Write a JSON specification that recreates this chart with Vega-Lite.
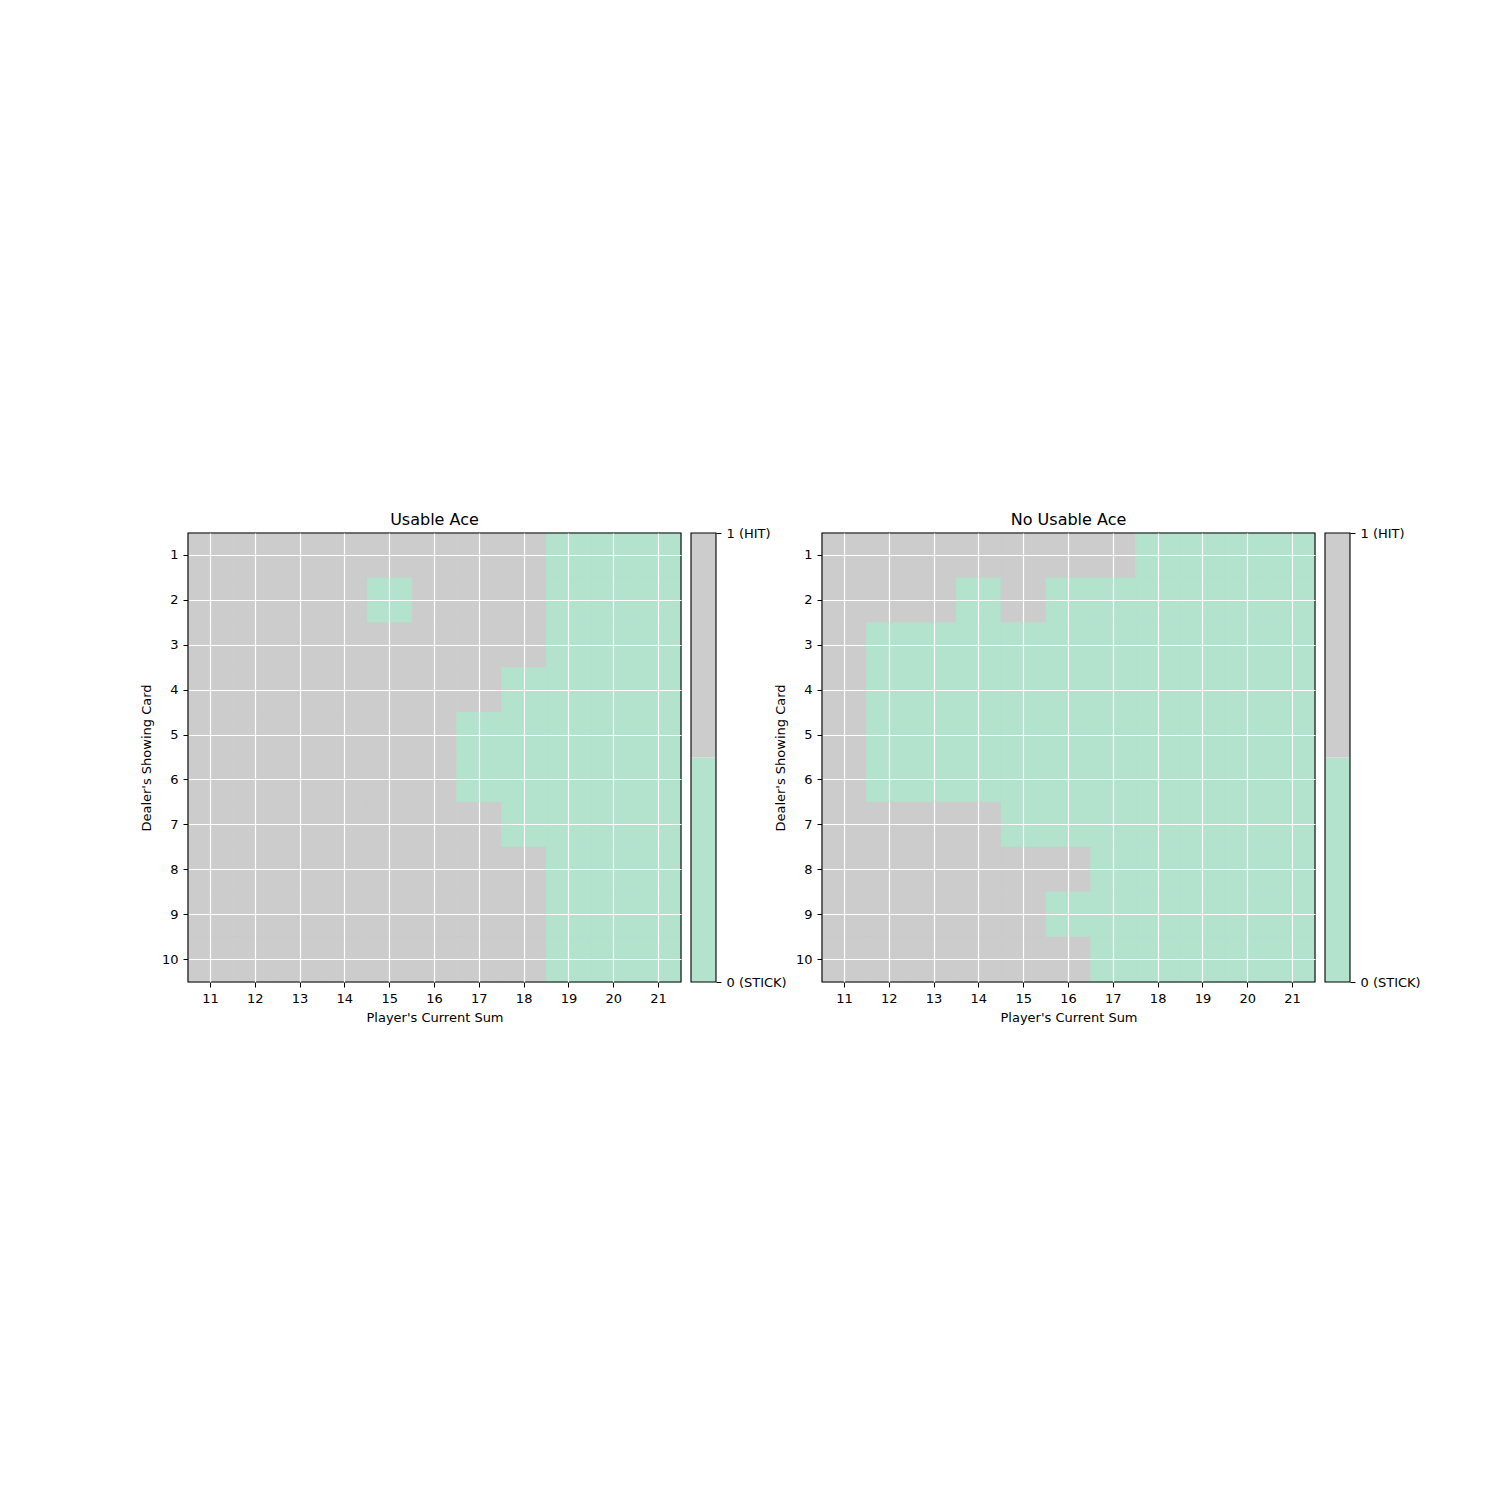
{
  "$schema": "https://vega.github.io/schema/vega-lite/v6.json",
  "padding": {"left": 140, "top": 512, "right": 5, "bottom": 5},
  "background": "white",
  "config": {
    "font": "DejaVu Sans",
    "view": {"stroke": null},
    "axis": {"labelFontSize": 13, "titleFontSize": 13, "titleFontWeight": "normal", "labelColor": "black", "titleColor": "black", "tickColor": "black", "tickSize": 5, "labelPadding": 5, "domain": false},
    "title": {"fontSize": 16, "fontWeight": "normal", "color": "black", "offset": 4}
  },
  "datasets": {
    "usable": [
      {"d":1,"s":11,"a":1},{"d":1,"s":12,"a":1},{"d":1,"s":13,"a":1},{"d":1,"s":14,"a":1},{"d":1,"s":15,"a":1},{"d":1,"s":16,"a":1},{"d":1,"s":17,"a":1},{"d":1,"s":18,"a":1},{"d":1,"s":19,"a":0},{"d":1,"s":20,"a":0},{"d":1,"s":21,"a":0},
      {"d":2,"s":11,"a":1},{"d":2,"s":12,"a":1},{"d":2,"s":13,"a":1},{"d":2,"s":14,"a":1},{"d":2,"s":15,"a":0},{"d":2,"s":16,"a":1},{"d":2,"s":17,"a":1},{"d":2,"s":18,"a":1},{"d":2,"s":19,"a":0},{"d":2,"s":20,"a":0},{"d":2,"s":21,"a":0},
      {"d":3,"s":11,"a":1},{"d":3,"s":12,"a":1},{"d":3,"s":13,"a":1},{"d":3,"s":14,"a":1},{"d":3,"s":15,"a":1},{"d":3,"s":16,"a":1},{"d":3,"s":17,"a":1},{"d":3,"s":18,"a":1},{"d":3,"s":19,"a":0},{"d":3,"s":20,"a":0},{"d":3,"s":21,"a":0},
      {"d":4,"s":11,"a":1},{"d":4,"s":12,"a":1},{"d":4,"s":13,"a":1},{"d":4,"s":14,"a":1},{"d":4,"s":15,"a":1},{"d":4,"s":16,"a":1},{"d":4,"s":17,"a":1},{"d":4,"s":18,"a":0},{"d":4,"s":19,"a":0},{"d":4,"s":20,"a":0},{"d":4,"s":21,"a":0},
      {"d":5,"s":11,"a":1},{"d":5,"s":12,"a":1},{"d":5,"s":13,"a":1},{"d":5,"s":14,"a":1},{"d":5,"s":15,"a":1},{"d":5,"s":16,"a":1},{"d":5,"s":17,"a":0},{"d":5,"s":18,"a":0},{"d":5,"s":19,"a":0},{"d":5,"s":20,"a":0},{"d":5,"s":21,"a":0},
      {"d":6,"s":11,"a":1},{"d":6,"s":12,"a":1},{"d":6,"s":13,"a":1},{"d":6,"s":14,"a":1},{"d":6,"s":15,"a":1},{"d":6,"s":16,"a":1},{"d":6,"s":17,"a":0},{"d":6,"s":18,"a":0},{"d":6,"s":19,"a":0},{"d":6,"s":20,"a":0},{"d":6,"s":21,"a":0},
      {"d":7,"s":11,"a":1},{"d":7,"s":12,"a":1},{"d":7,"s":13,"a":1},{"d":7,"s":14,"a":1},{"d":7,"s":15,"a":1},{"d":7,"s":16,"a":1},{"d":7,"s":17,"a":1},{"d":7,"s":18,"a":0},{"d":7,"s":19,"a":0},{"d":7,"s":20,"a":0},{"d":7,"s":21,"a":0},
      {"d":8,"s":11,"a":1},{"d":8,"s":12,"a":1},{"d":8,"s":13,"a":1},{"d":8,"s":14,"a":1},{"d":8,"s":15,"a":1},{"d":8,"s":16,"a":1},{"d":8,"s":17,"a":1},{"d":8,"s":18,"a":1},{"d":8,"s":19,"a":0},{"d":8,"s":20,"a":0},{"d":8,"s":21,"a":0},
      {"d":9,"s":11,"a":1},{"d":9,"s":12,"a":1},{"d":9,"s":13,"a":1},{"d":9,"s":14,"a":1},{"d":9,"s":15,"a":1},{"d":9,"s":16,"a":1},{"d":9,"s":17,"a":1},{"d":9,"s":18,"a":1},{"d":9,"s":19,"a":0},{"d":9,"s":20,"a":0},{"d":9,"s":21,"a":0},
      {"d":10,"s":11,"a":1},{"d":10,"s":12,"a":1},{"d":10,"s":13,"a":1},{"d":10,"s":14,"a":1},{"d":10,"s":15,"a":1},{"d":10,"s":16,"a":1},{"d":10,"s":17,"a":1},{"d":10,"s":18,"a":1},{"d":10,"s":19,"a":0},{"d":10,"s":20,"a":0},{"d":10,"s":21,"a":0}
    ],
    "nousable": [
      {"d":1,"s":11,"a":1},{"d":1,"s":12,"a":1},{"d":1,"s":13,"a":1},{"d":1,"s":14,"a":1},{"d":1,"s":15,"a":1},{"d":1,"s":16,"a":1},{"d":1,"s":17,"a":1},{"d":1,"s":18,"a":0},{"d":1,"s":19,"a":0},{"d":1,"s":20,"a":0},{"d":1,"s":21,"a":0},
      {"d":2,"s":11,"a":1},{"d":2,"s":12,"a":1},{"d":2,"s":13,"a":1},{"d":2,"s":14,"a":0},{"d":2,"s":15,"a":1},{"d":2,"s":16,"a":0},{"d":2,"s":17,"a":0},{"d":2,"s":18,"a":0},{"d":2,"s":19,"a":0},{"d":2,"s":20,"a":0},{"d":2,"s":21,"a":0},
      {"d":3,"s":11,"a":1},{"d":3,"s":12,"a":0},{"d":3,"s":13,"a":0},{"d":3,"s":14,"a":0},{"d":3,"s":15,"a":0},{"d":3,"s":16,"a":0},{"d":3,"s":17,"a":0},{"d":3,"s":18,"a":0},{"d":3,"s":19,"a":0},{"d":3,"s":20,"a":0},{"d":3,"s":21,"a":0},
      {"d":4,"s":11,"a":1},{"d":4,"s":12,"a":0},{"d":4,"s":13,"a":0},{"d":4,"s":14,"a":0},{"d":4,"s":15,"a":0},{"d":4,"s":16,"a":0},{"d":4,"s":17,"a":0},{"d":4,"s":18,"a":0},{"d":4,"s":19,"a":0},{"d":4,"s":20,"a":0},{"d":4,"s":21,"a":0},
      {"d":5,"s":11,"a":1},{"d":5,"s":12,"a":0},{"d":5,"s":13,"a":0},{"d":5,"s":14,"a":0},{"d":5,"s":15,"a":0},{"d":5,"s":16,"a":0},{"d":5,"s":17,"a":0},{"d":5,"s":18,"a":0},{"d":5,"s":19,"a":0},{"d":5,"s":20,"a":0},{"d":5,"s":21,"a":0},
      {"d":6,"s":11,"a":1},{"d":6,"s":12,"a":0},{"d":6,"s":13,"a":0},{"d":6,"s":14,"a":0},{"d":6,"s":15,"a":0},{"d":6,"s":16,"a":0},{"d":6,"s":17,"a":0},{"d":6,"s":18,"a":0},{"d":6,"s":19,"a":0},{"d":6,"s":20,"a":0},{"d":6,"s":21,"a":0},
      {"d":7,"s":11,"a":1},{"d":7,"s":12,"a":1},{"d":7,"s":13,"a":1},{"d":7,"s":14,"a":1},{"d":7,"s":15,"a":0},{"d":7,"s":16,"a":0},{"d":7,"s":17,"a":0},{"d":7,"s":18,"a":0},{"d":7,"s":19,"a":0},{"d":7,"s":20,"a":0},{"d":7,"s":21,"a":0},
      {"d":8,"s":11,"a":1},{"d":8,"s":12,"a":1},{"d":8,"s":13,"a":1},{"d":8,"s":14,"a":1},{"d":8,"s":15,"a":1},{"d":8,"s":16,"a":1},{"d":8,"s":17,"a":0},{"d":8,"s":18,"a":0},{"d":8,"s":19,"a":0},{"d":8,"s":20,"a":0},{"d":8,"s":21,"a":0},
      {"d":9,"s":11,"a":1},{"d":9,"s":12,"a":1},{"d":9,"s":13,"a":1},{"d":9,"s":14,"a":1},{"d":9,"s":15,"a":1},{"d":9,"s":16,"a":0},{"d":9,"s":17,"a":0},{"d":9,"s":18,"a":0},{"d":9,"s":19,"a":0},{"d":9,"s":20,"a":0},{"d":9,"s":21,"a":0},
      {"d":10,"s":11,"a":1},{"d":10,"s":12,"a":1},{"d":10,"s":13,"a":1},{"d":10,"s":14,"a":1},{"d":10,"s":15,"a":1},{"d":10,"s":16,"a":1},{"d":10,"s":17,"a":0},{"d":10,"s":18,"a":0},{"d":10,"s":19,"a":0},{"d":10,"s":20,"a":0},{"d":10,"s":21,"a":0}
    ],
    "cbar": [
      {"a":0,"lo":0,"hi":0.5},
      {"a":1,"lo":0.5,"hi":1}
    ],
    "frame": [{"f": 1}]
  },
  "bounds": "flush",
  "spacing": 10,
  "hconcat": [
    {
      "width": 493, "height": 449,
      "title": "Usable Ace",
      "layer": [
        {
          "data": {"name": "usable"},
          "mark": {"type": "rect", "strokeWidth": 1},
          "encoding": {
            "x": {"field": "s", "type": "ordinal", "scale": {"paddingInner": 0, "paddingOuter": 0}, "axis": {"title": "Player's Current Sum", "labelAngle": 0, "grid": true, "gridColor": "white", "gridWidth": 1.2, "bandPosition": 0.5, "zindex": 1, "titlePadding": 6}},
            "y": {"field": "d", "type": "ordinal", "scale": {"paddingInner": 0, "paddingOuter": 0}, "axis": {"title": "Dealer's Showing Card", "grid": true, "gridColor": "white", "gridWidth": 1.2, "bandPosition": 0.5, "zindex": 1, "titlePadding": 8}},
            "color": {"field": "a", "type": "ordinal", "scale": {"domain": [0, 1], "range": ["#b3e2cd", "#cccccc"]}, "legend": null},
            "stroke": {"field": "a", "type": "ordinal", "scale": {"domain": [0, 1], "range": ["#b3e2cd", "#cccccc"]}, "legend": null}
          }
        },
        {
          "data": {"name": "frame"},
          "mark": {"type": "rect", "fillOpacity": 0, "stroke": "black", "strokeWidth": 1.1},
          "encoding": {}
        }
      ]
    },
    {
      "width": 25, "height": 449,
      "layer": [
        {
          "data": {"name": "cbar"},
          "mark": {"type": "rect"},
          "encoding": {
            "y": {"field": "lo", "type": "quantitative", "scale": {"domain": [0, 1], "nice": false, "zero": false}, "axis": {"orient": "right", "values": [0, 1], "labelExpr": "datum.value == 1 ? '1 (HIT)' : '0 (STICK)'", "title": null, "grid": false, "labelFlush": false, "zindex": 1}},
            "y2": {"field": "hi"},
            "color": {"field": "a", "type": "ordinal", "scale": {"domain": [0, 1], "range": ["#b3e2cd", "#cccccc"]}, "legend": null}
          }
        },
        {
          "data": {"name": "frame"},
          "mark": {"type": "rect", "fillOpacity": 0, "stroke": "black", "strokeWidth": 1.1},
          "encoding": {}
        }
      ]
    },
    {
      "width": 86, "height": 449,
      "data": {"name": "frame"},
      "mark": {"type": "rect", "opacity": 0},
      "encoding": {}
    },
    {
      "width": 493, "height": 449,
      "title": "No Usable Ace",
      "layer": [
        {
          "data": {"name": "nousable"},
          "mark": {"type": "rect", "strokeWidth": 1},
          "encoding": {
            "x": {"field": "s", "type": "ordinal", "scale": {"paddingInner": 0, "paddingOuter": 0}, "axis": {"title": "Player's Current Sum", "labelAngle": 0, "grid": true, "gridColor": "white", "gridWidth": 1.2, "bandPosition": 0.5, "zindex": 1, "titlePadding": 6}},
            "y": {"field": "d", "type": "ordinal", "scale": {"paddingInner": 0, "paddingOuter": 0}, "axis": {"title": "Dealer's Showing Card", "grid": true, "gridColor": "white", "gridWidth": 1.2, "bandPosition": 0.5, "zindex": 1, "titlePadding": 8}},
            "color": {"field": "a", "type": "ordinal", "scale": {"domain": [0, 1], "range": ["#b3e2cd", "#cccccc"]}, "legend": null},
            "stroke": {"field": "a", "type": "ordinal", "scale": {"domain": [0, 1], "range": ["#b3e2cd", "#cccccc"]}, "legend": null}
          }
        },
        {
          "data": {"name": "frame"},
          "mark": {"type": "rect", "fillOpacity": 0, "stroke": "black", "strokeWidth": 1.1},
          "encoding": {}
        }
      ]
    },
    {
      "width": 25, "height": 449,
      "layer": [
        {
          "data": {"name": "cbar"},
          "mark": {"type": "rect"},
          "encoding": {
            "y": {"field": "lo", "type": "quantitative", "scale": {"domain": [0, 1], "nice": false, "zero": false}, "axis": {"orient": "right", "values": [0, 1], "labelExpr": "datum.value == 1 ? '1 (HIT)' : '0 (STICK)'", "title": null, "grid": false, "labelFlush": false, "zindex": 1}},
            "y2": {"field": "hi"},
            "color": {"field": "a", "type": "ordinal", "scale": {"domain": [0, 1], "range": ["#b3e2cd", "#cccccc"]}, "legend": null}
          }
        },
        {
          "data": {"name": "frame"},
          "mark": {"type": "rect", "fillOpacity": 0, "stroke": "black", "strokeWidth": 1.1},
          "encoding": {}
        }
      ]
    }
  ],
  "resolve": {"scale": {"x": "independent", "y": "independent"}}
}
